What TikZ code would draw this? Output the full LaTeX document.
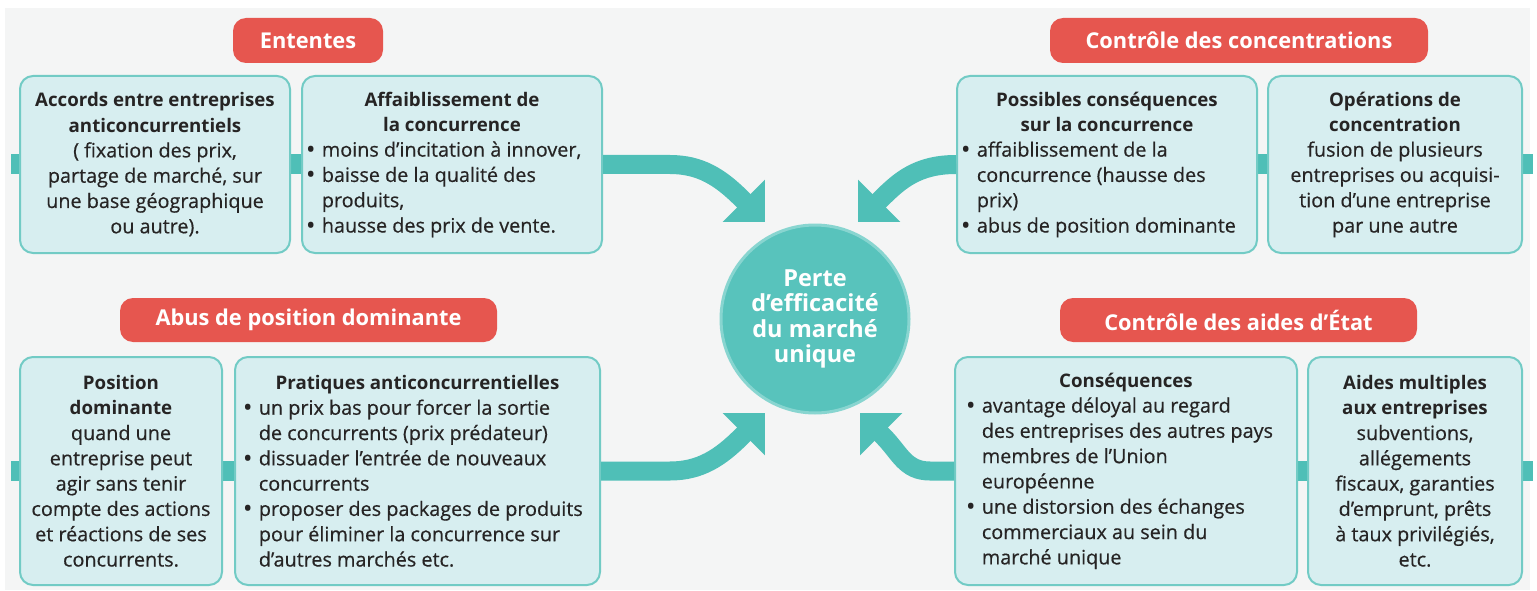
\documentclass[tikz,border=0pt]{standalone}
\usepackage{fontspec}
\setmainfont[UprightFeatures={FakeBold=0.5}]{Open Sans}
\usetikzlibrary{arrows.meta,backgrounds}
\definecolor{bgcol}{HTML}{F4F5F5}
\definecolor{boxfill}{HTML}{D7EEF0}
\definecolor{boxline}{HTML}{72CBC5}
\definecolor{tealA}{HTML}{4FBFB7}
\definecolor{circfill}{HTML}{58C3BC}
\definecolor{circline}{HTML}{88D5D0}
\definecolor{redlab}{HTML}{E6564F}
\definecolor{txtcol}{HTML}{262424}
\newcommand\lineC[1]{\hbox to\hsize{\hss#1\hss}}
\newcommand\lineL[1]{\hbox to\hsize{#1\hss}}
\newcommand\hd{\fontsize{18.7}{25.3}\selectfont\bfseries}
\newcommand\bul{\makebox[0.75em][l]{\textbf{•}}}
\newcommand\bulind{\hspace*{0.75em}}
\tikzset{
  bx/.style={draw=boxline, fill=boxfill, line width=2pt, rounded corners=13pt,
    inner sep=0pt, text=txtcol, font=\fontsize{19.8}{25.3}\selectfont},
  lab/.style={fill=redlab, rounded corners=13pt, inner sep=0pt, text=white,
    font=\fontsize{21.8}{25}\selectfont\bfseries},
  tabline/.style={draw=tealA, line width=20pt},
  bigarr/.style={draw=tealA, line width=19pt, -{Triangle[length=30pt,width=58pt]}},
}
\begin{document}
\begin{tikzpicture}[x=1pt,y=-1pt]
\useasboundingbox (0,0) rectangle (1537,591);

% labels
\node[lab, minimum width=150pt, minimum height=45pt] (l1) at (308,40.5) {Ententes};
\node[lab, minimum width=378pt, minimum height=45pt] (l2) at (1239,40.5) {Contrôle des concentrations};
\node[lab, minimum width=377pt, minimum height=44pt] (l3) at (308.5,320) {Abus de position dominante};
\node[lab, minimum width=357pt, minimum height=44pt] (l4) at (1238.5,320) {Contrôle des aides d’État};

% top row boxes
\node[bx, minimum width=270pt, minimum height=177pt] (b1) at (155,164.5) {\vbox{\hsize=262pt
  \lineC{\hd Accords entre entreprises}
  \lineC{\hd anticoncurrentiels}
  \lineC{( fixation des prix,}
  \lineC{partage de marché, sur}
  \lineC{une base géographique}
  \lineC{ou autre).}}};
\node[bx, minimum width=300pt, minimum height=177pt] (b2) at (452,164.5) {\vbox{\hsize=290pt
  \lineC{\hd Affaiblissement de}
  \lineC{\hd la concurrence}
  \lineL{\bul moins d’incitation à innover,}
  \lineL{\bul baisse de la qualité des}
  \lineL{\bulind produits,}
  \lineL{\bul hausse des prix de vente.}}};
\node[bx, minimum width=300pt, minimum height=177pt] (b3) at (1107,164.5) {\vbox{\hsize=290pt
  \lineC{\hd Possibles conséquences}
  \lineC{\hd sur la concurrence}
  \lineL{\bul affaiblissement de la}
  \lineL{\bulind concurrence (hausse des}
  \lineL{\bulind prix)}
  \lineL{\bul abus de position dominante}}};
\node[bx, minimum width=254pt, minimum height=177pt] (b4) at (1395,164.5) {\vbox{\hsize=248pt
  \lineC{\hd Opérations de}
  \lineC{\hd concentration}
  \lineC{fusion de plusieurs}
  \lineC{entreprises ou acquisi-}
  \lineC{tion d’une entreprise}
  \lineC{par une autre}}};

% bottom row boxes
\node[bx, minimum width=202pt, minimum height=228pt] (b5) at (121,471) {\vbox{\hsize=196pt
  \lineC{\hd Position}
  \lineC{\hd dominante}
  \lineC{quand une}
  \lineC{entreprise peut}
  \lineC{agir sans tenir}
  \lineC{compte des actions}
  \lineC{et réactions de ses}
  \lineC{concurrents.}}};
\node[bx, minimum width=365pt, minimum height=228pt] (b6) at (417.5,471) {\vbox{\hsize=347pt
  \lineC{\hd Pratiques anticoncurrentielles}
  \lineL{\bul un prix bas pour forcer la sortie}
  \lineL{\bulind de concurrents (prix prédateur)}
  \lineL{\bul dissuader l’entrée de nouveaux}
  \lineL{\bulind concurrents}
  \lineL{\bul proposer des packages de produits}
  \lineL{\bulind pour éliminer la concurrence sur}
  \lineL{\bulind d’autres marchés etc.}}};
\node[bx, minimum width=342pt, minimum height=228pt] (b7) at (1126,471) {\vbox{\hsize=318pt
  \lineC{\hd Conséquences}
  \lineL{\bul avantage déloyal au regard}
  \lineL{\bulind des entreprises des autres pays}
  \lineL{\bulind membres de l’Union}
  \lineL{\bulind européenne}
  \lineL{\bul une distorsion des échanges}
  \lineL{\bulind commerciaux au sein du}
  \lineL{\bulind marché unique}}};
\node[bx, minimum width=214pt, minimum height=228pt] (b8) at (1415,471) {\vbox{\hsize=208pt
  \lineC{\hd Aides multiples}
  \lineC{\hd aux entreprises}
  \lineC{subventions,}
  \lineC{allégements}
  \lineC{fiscaux, garanties}
  \lineC{d’emprunt, prêts}
  \lineC{à taux privilégiés,}
  \lineC{etc.}}};

% centre
\node[circle, fill=circfill, draw=circline, line width=3pt, minimum size=188pt,
  text=white, align=center, font=\fontsize{23.5}{25.5}\selectfont\bfseries] (c) at (815,319)
  {Perte\\d’efficacité\\du marché\\unique};

% free ends
\coordinate (e1) at (11,164.5);
\coordinate (e2) at (1533,164.5);
\coordinate (e3) at (11,471);
\coordinate (e4) at (1533,471);
\coordinate (t1) at (765,222);
\coordinate (t2) at (858,222);
\coordinate (t3) at (765,413);
\coordinate (t4) at (860,413);

\begin{scope}[on background layer]
\fill[bgcol] (5,8) rectangle (1530,590);
\draw[tabline] (b1.west) -- (e1);
\draw[tabline] (b1.east) -- (b2.west);
\draw[tabline] (b3.east) -- (b4.west);
\draw[tabline] (b4.east) -- (e2);
\draw[tabline] (b5.west) -- (e3);
\draw[tabline] (b5.east) -- (b6.west);
\draw[tabline] (b7.east) -- (b8.west);
\draw[tabline] (b8.east) -- (e4);
\end{scope}

\draw[bigarr] (b2.east) -- (670,164.5) .. controls (700,164.5) and (720,177) .. (742,199) -- (t1);
\draw[bigarr] (b3.west) .. controls (918,164.5) and (900,180) .. (881,199) -- (t2);
\draw[bigarr] (b6.east) -- (670,471) .. controls (700,471) and (720,458) .. (742,436) -- (t3);
\draw[bigarr] (b7.west) -- (930,471) .. controls (905,471) and (900,453) .. (883,436) -- (t4);
\end{tikzpicture}
\end{document}
